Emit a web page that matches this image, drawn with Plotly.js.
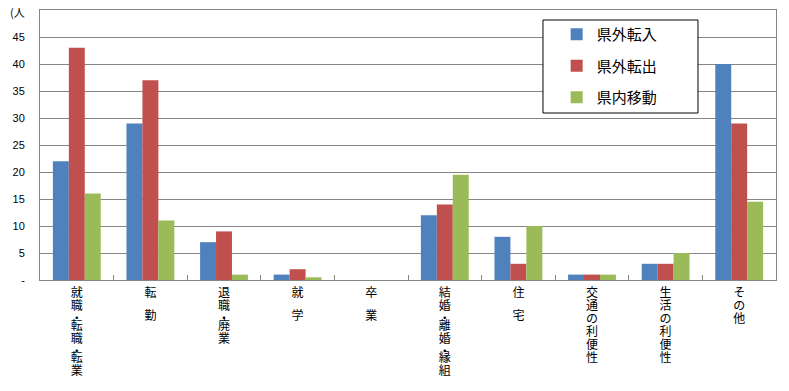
<!DOCTYPE html>
<html><head><meta charset="utf-8">
<script src="https://cdn.plot.ly/plotly-3.0.1.min.js"></script>
<style>html,body{margin:0;padding:0;background:#fff}#chart{width:789px;height:391px}</style>
</head><body><div id="chart"></div>
<script>
const categories = ['就職・転職・転業','転　勤','退職・廃業','就　学','卒　業','結婚・離婚・縁組','住　宅','交通の利便性','生活の利便性','その他'];
const seriesNames = ['県外転入','県外転出','県内移動'];
const inFromOutside = [22,29,7,1,0,12,8,1,3,40];
const outToOutside = [43,37,9,2,0,14,3,1,3,29];
const withinPref = [16,11,1,0.5,0,19.5,10,1,5,14.5];
const yTickVals = [0,5,10,15,20,25,30,35,40,45];
const yTickText = ['-','5','10','15','20','25','30','35','40','45'];
const colors = ['#4F81BD','#C0504D','#9BBB59'];
const jp = '"Noto Sans CJK JP", sans-serif';

function vertical(label){
  const parts = [];
  for (const ch of label){
    const sp = '<span style="font-size:12px">'+ch+'</span>';
    if (ch === '・') { parts.push(sp, ''); }
    else if (ch === '　') { parts.push('', '', ''); }
    else { parts.push(sp, '', '', ''); }
  }
  while (parts.length && parts[parts.length-1] === '') parts.pop();
  return parts.join('<br>');
}

const values = [inFromOutside, outToOutside, withinPref];
const traces = values.map((v,i)=>({
  type:'bar', x:categories, y:v, name:seriesNames[i],
  marker:{color:colors[i]}, legendgroup:'g'+i, hoverinfo:'x+y'
}));

const layout = {
  width:789, height:391,
  margin:{l:40, r:13, t:10, b:111},
  paper_bgcolor:'#fff', plot_bgcolor:'#fff',
  barmode:'group', bargap:0.35, bargroupgap:0,
  showlegend:true,
  legend:{x:0.702, y:0.97, xanchor:'left', yanchor:'top', bgcolor:'rgba(0,0,0,0)',
    font:{family:jp, size:15, color:'#000'}, traceorder:'grouped', tracegroupgap:9},
  xaxis:{type:'category', tickmode:'array', tickvals:categories, ticktext:categories.map(vertical),
    tickfont:{family:jp, size:2.5, color:'#000'}, tickangle:0, ticklabelstandoff:13,
    tickson:'boundaries', ticks:'inside', ticklen:5, tickcolor:'#868686',
    showline:true, linecolor:'#868686', linewidth:1, mirror:true, showgrid:false, automargin:false},
  yaxis:{range:[0,50], tickmode:'array', tickvals:yTickVals, ticktext:yTickText,
    tickfont:{family:'"Liberation Sans", Arial, sans-serif', size:11, color:'#000'},
    ticks:'', ticklabelstandoff:12, showgrid:true, gridcolor:'#868686', gridwidth:1,
    showline:true, linecolor:'#868686', linewidth:1, mirror:true, zeroline:false, automargin:false},
  shapes:[{type:'rect', xref:'paper', yref:'paper', x0:0.6834, x1:0.894, y0:0.6185, y1:0.963,
    line:{color:'#000', width:1}, fillcolor:'#fff', layer:'above'}],
  annotations:[{text:'(人', xref:'paper', yref:'paper', x:-0.0435, y:1.03, xanchor:'left', yanchor:'top',
    showarrow:false, font:{family:jp, size:11, color:'#000'}}]
};
Plotly.newPlot('chart', traces, layout, {staticPlot:true, displayModeBar:false});
</script></body></html>
